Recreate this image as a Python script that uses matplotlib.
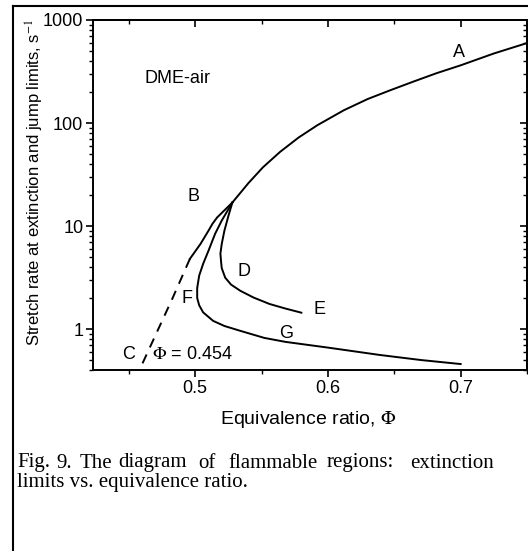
import matplotlib
matplotlib.use("Agg")
import matplotlib.pyplot as plt
from matplotlib.lines import Line2D
from matplotlib.ticker import MultipleLocator, FixedLocator, NullFormatter, LogLocator

# ── Datos ─────────────────────────────────────────────────────────
# Rama A (límite de extinción superior)
A_PHI = [0.528, 0.540, 0.551, 0.564, 0.578, 0.592, 0.612, 0.630, 0.647, 0.665, 0.682, 0.700, 0.725, 0.750]
A_K   = [16.9,  26.0,  37.1,  52.5,  72.4,  95.1,  133.,  171.,  208.,  254.,  305.,  363.,  473.,  597.]

# Rama B (sólida) y su extrapolación C (discontinua)
B_PHI = [0.528, 0.5225, 0.5165, 0.513, 0.510, 0.504, 0.496]
B_K   = [16.9,  14.4,   12.1,   10.5,  9.0,   6.7,   4.8]
C_PHI = [0.496, 0.483, 0.458]
C_K   = [4.8,   2.0,   0.40]

# Rama D-E
D_PHI = [0.528, 0.525, 0.522, 0.520, 0.519, 0.5195, 0.520, 0.5226, 0.527, 0.534, 0.544, 0.556, 0.568, 0.580]
D_K   = [16.9,  12.5,  9.0,   6.7,   5.4,   4.5,    3.9,   3.15,   2.7,   2.35,  2.02,  1.75,  1.58,  1.44]

# Rama F-G
F_PHI = [0.528, 0.520, 0.515, 0.510, 0.506, 0.503, 0.5015, 0.5015, 0.503, 0.506, 0.5135, 0.522, 0.534, 0.552, 0.568, 0.600, 0.639, 0.670, 0.700]
F_K   = [16.9,  11.3,  8.4,   5.75,  4.3,   3.3,   2.5,    2.0,    1.7,   1.45,  1.2,    1.07,  0.96,  0.82,  0.75,  0.66,  0.56,  0.50,  0.457]

# Etiquetas de las curvas: (texto, phi, k)
LABELS = [("A", 0.699, 488), ("B", 0.4985, 19.3), ("C", 0.4496, 0.56),
          ("D", 0.537, 3.6), ("E", 0.594, 1.53), ("F", 0.494, 1.96),
          ("G", 0.5684, 0.90)]

X_TICKS = [0.5, 0.6, 0.7]
Y_TICKS = [1, 10, 100, 1000]
Y_TICKLABELS = ["1", "10", "100", "1000"]

CAPTION_1 = ["Fig.", "9.", "The", "diagram", "of", "flammable", "regions:", "extinction"]
CAPTION_1_X = [17, 56, 80, 118, 198, 228, 327, 410]   # px
CAPTION_2 = "limits vs. equivalence ratio."
# ──────────────────────────────────────────────────────────────────

W, H = 528, 551
plt.rcParams["font.family"] = ["Liberation Sans", "DejaVu Sans"]
plt.rcParams["mathtext.fontset"] = "stix"

fig = plt.figure(figsize=(W / 100, H / 100), dpi=100)
ax = fig.add_axes([93 / W, 1 - 370 / H, 434 / W, 350 / H])

LW = 1.4
ax.plot(A_PHI, A_K, color="black", lw=LW)
ax.plot(B_PHI, B_K, color="black", lw=LW)
ax.plot(C_PHI, C_K, color="black", lw=LW, linestyle=(0, (5, 4)))
ax.plot(D_PHI, D_K, color="black", lw=LW)
ax.plot(F_PHI, F_K, color="black", lw=LW)

for txt, px, pk in LABELS:
    ax.text(px, pk, txt, fontsize=13, ha="center", va="center")

ax.text(0.4865, 272, "DME-air", fontsize=13, ha="center", va="center")
ax.text(0.4672, 0.56, r"$\Phi$ = 0.454", fontsize=13, ha="left", va="center")

ax.set_yscale("log")
ax.set_xlim(0.423, 0.75)
ax.set_ylim(0.4, 1000)

ax.xaxis.set_major_locator(FixedLocator(X_TICKS))
ax.xaxis.set_minor_locator(MultipleLocator(0.05))
ax.set_xticklabels([str(v) for v in X_TICKS])
ax.yaxis.set_major_locator(FixedLocator(Y_TICKS))
ax.set_yticklabels(Y_TICKLABELS)
ax.yaxis.set_minor_formatter(NullFormatter())

ax.tick_params(which="major", direction="out", length=5, width=1.2, labelsize=13, pad=2)
ax.tick_params(which="minor", direction="out", length=3, width=1.0)
for sp in ax.spines.values():
    sp.set_linewidth(1.4)

# ticks interiores arriba y a la derecha
top = ax.secondary_xaxis("top")
top.xaxis.set_major_locator(FixedLocator(X_TICKS))
top.xaxis.set_minor_locator(MultipleLocator(0.05))
top.tick_params(which="major", direction="in", length=5, width=1.2, labeltop=False)
top.tick_params(which="minor", direction="in", length=3, width=1.0)
right = ax.secondary_yaxis("right")
right.yaxis.set_major_locator(FixedLocator(Y_TICKS))
right.yaxis.set_minor_locator(LogLocator(base=10, subs=range(2, 10), numticks=20))
right.yaxis.set_minor_formatter(NullFormatter())
right.tick_params(which="major", direction="in", length=5, width=1.2, labelright=False)
right.tick_params(which="minor", direction="in", length=3, width=1.0)
for sax in (top, right):
    for sp in sax.spines.values():
        sp.set_linewidth(1.4)

fig.text(35 / W, 1 - 182 / H, "Stretch rate at extinction and jump limits, s$^{-1}$",
         rotation=90, ha="center", va="center", fontsize=12)
fig.text(308 / W, 1 - 420 / H, r"Equivalence ratio, $\Phi$",
         ha="center", va="center", fontsize=14)

for word, xp in zip(CAPTION_1, CAPTION_1_X):
    fig.text(xp / W, 1 - 463 / H, word, ha="left", va="center",
             fontsize=15, family="Liberation Serif")
fig.text(17 / W, 1 - 483 / H, CAPTION_2, ha="left", va="center",
         fontsize=15, family="Liberation Serif")

# marco de la página
fig.add_artist(Line2D([13 / W, 13 / W], [0, 1 - 6 / H], transform=fig.transFigure,
                      color="black", lw=1.5))
fig.add_artist(Line2D([13 / W, 1], [1 - 6 / H, 1 - 6 / H], transform=fig.transFigure,
                      color="black", lw=1.5))

fig.savefig("out.png", dpi=100)
